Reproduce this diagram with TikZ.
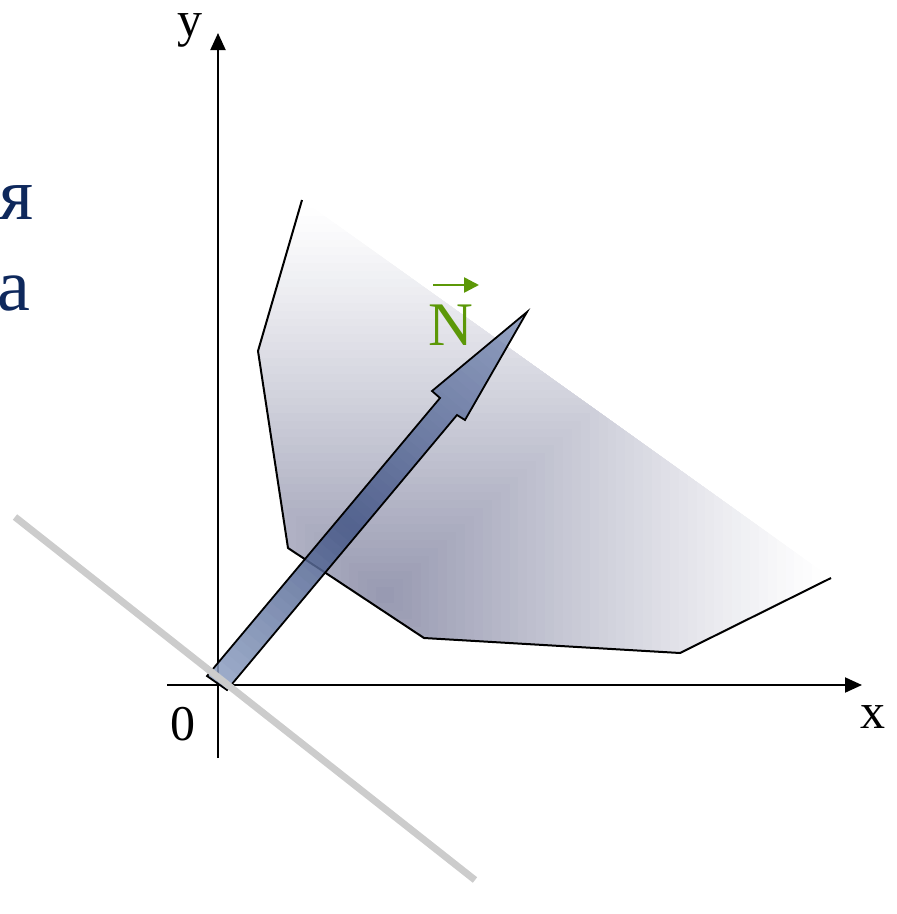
\documentclass[tikz,border=0pt]{standalone}
\usepackage{fontspec}
\setmainfont{Liberation Serif}
\usetikzlibrary{arrows.meta}
\definecolor{polydark}{RGB}{150,152,176}
\definecolor{navytext}{RGB}{14,40,92}
\definecolor{ngreen}{RGB}{92,152,8}
\definecolor{planegray}{RGB}{204,204,204}
\definecolor{arrtip}{RGB}{130,146,184}
\definecolor{arrmid}{RGB}{68,86,134}
\definecolor{arrtail}{RGB}{142,160,194}
\tikzset{
  axisline/.style={line width=2pt, -{Triangle[length=17pt,width=15pt]}},
  outline/.style={line width=2pt, line join=round},
  lbl/.style={inner sep=0pt, font=\fontsize{50}{60}\selectfont},
  cyr/.style={inner sep=0pt, text=navytext, font=\fontsize{74}{88}\selectfont},
}
\begin{document}
\begin{tikzpicture}[x=1pt,y=-1pt]
\useasboundingbox (0,0) rectangle (897,914);
% polygon points
\coordinate (p1) at (302,200);
\coordinate (p2) at (258,351);
\coordinate (p3) at (288,548);
\coordinate (p4) at (424,638);
\coordinate (p5) at (680,653);
\coordinate (p6) at (831,578);
% gradient fill (rectangular bands)
\begin{scope}
\clip (p1) -- (p2) -- (p3) -- (p4) -- (p5) -- (p6) -- cycle;
\foreach \i in {50,...,1}{
  \pgfmathsetmacro\t{\i/50}
  \pgfmathsetmacro\p{100*(1-\t)^1.15}
  \fill[polydark!\p!white] (385-445*\t,595-395*\t) rectangle (385+445*\t,595+395*\t);
}
\end{scope}
\draw[outline] (p1) -- (p2) -- (p3) -- (p4) -- (p5) -- (p6);
% axes
\coordinate (xs) at (167,685);
\coordinate (xe) at (862,685);
\coordinate (ys) at (218,758);
\coordinate (ye) at (218,33);
\draw[axisline] (xs) -- (xe);
\draw[axisline] (ys) -- (ye);
% normal arrow
\coordinate (a1) at (207,676);
\coordinate (a2) at (440,398);
\coordinate (a3) at (432,391);
\coordinate (a4) at (527,312);
\coordinate (a5) at (465,420);
\coordinate (a6) at (457,415);
\coordinate (a7) at (227,690);
\begin{scope}[transparency group, opacity=0.85]
\clip (a1) -- (a2) -- (a3) -- (a4) -- (a5) -- (a6) -- (a7) -- cycle;
\foreach \k in {0,...,49}{
  \pgfmathsetmacro\sa{\k/50}
  \pgfmathsetmacro\sb{(\k+1.3)/50}
  \pgfmathsetmacro\sm{(\k+0.5)/50}
  \pgfmathsetmacro\q{\sm<0.42 ? 100*\sm/0.42 : 100*(\sm-0.42)/0.58}
  \ifdim\sm pt<0.42pt
    \colorlet{stripc}{arrmid!\q!arrtail}
  \else
    \colorlet{stripc}{arrtip!\q!arrmid}
  \fi
  \fill[stripc] (217+310*\sa+46,683-371*\sa+38.5) -- (217+310*\sa-46,683-371*\sa-38.5)
     -- (217+310*\sb-46,683-371*\sb-38.5) -- (217+310*\sb+46,683-371*\sb+38.5) -- cycle;
}
\end{scope}
\draw[outline, line width=1.8pt, line join=miter] (a1) -- (a2) -- (a3) -- (a4) -- (a5) -- (a6) -- (a7) -- cycle;
% plane trace
\coordinate (g1) at (15,517);
\coordinate (g2) at (475,880);
\draw[planegray, line width=7pt] (g1) -- (g2);
% labels
\node[lbl, anchor=base] (ylab) at (190,36) {y};
\node[lbl, anchor=base] (xlab) at (873,728) {x};
\node[lbl, anchor=base] (olab) at (183,740) {0};
\node[inner sep=0pt, anchor=base, text=ngreen, font=\fontsize{62}{74}\selectfont] (nlab) at (451,345) {N};
\coordinate (na) at (433,285);
\coordinate (nb) at (479,285);
\draw[ngreen, line width=2.5pt, -{Triangle[length=15pt,width=15pt]}] (na) -- (nb);
\node[cyr, anchor=base east] (ya) at (34,219) {я};
\node[cyr, anchor=base east] (aa) at (31,310) {а};
\end{tikzpicture}
\end{document}
